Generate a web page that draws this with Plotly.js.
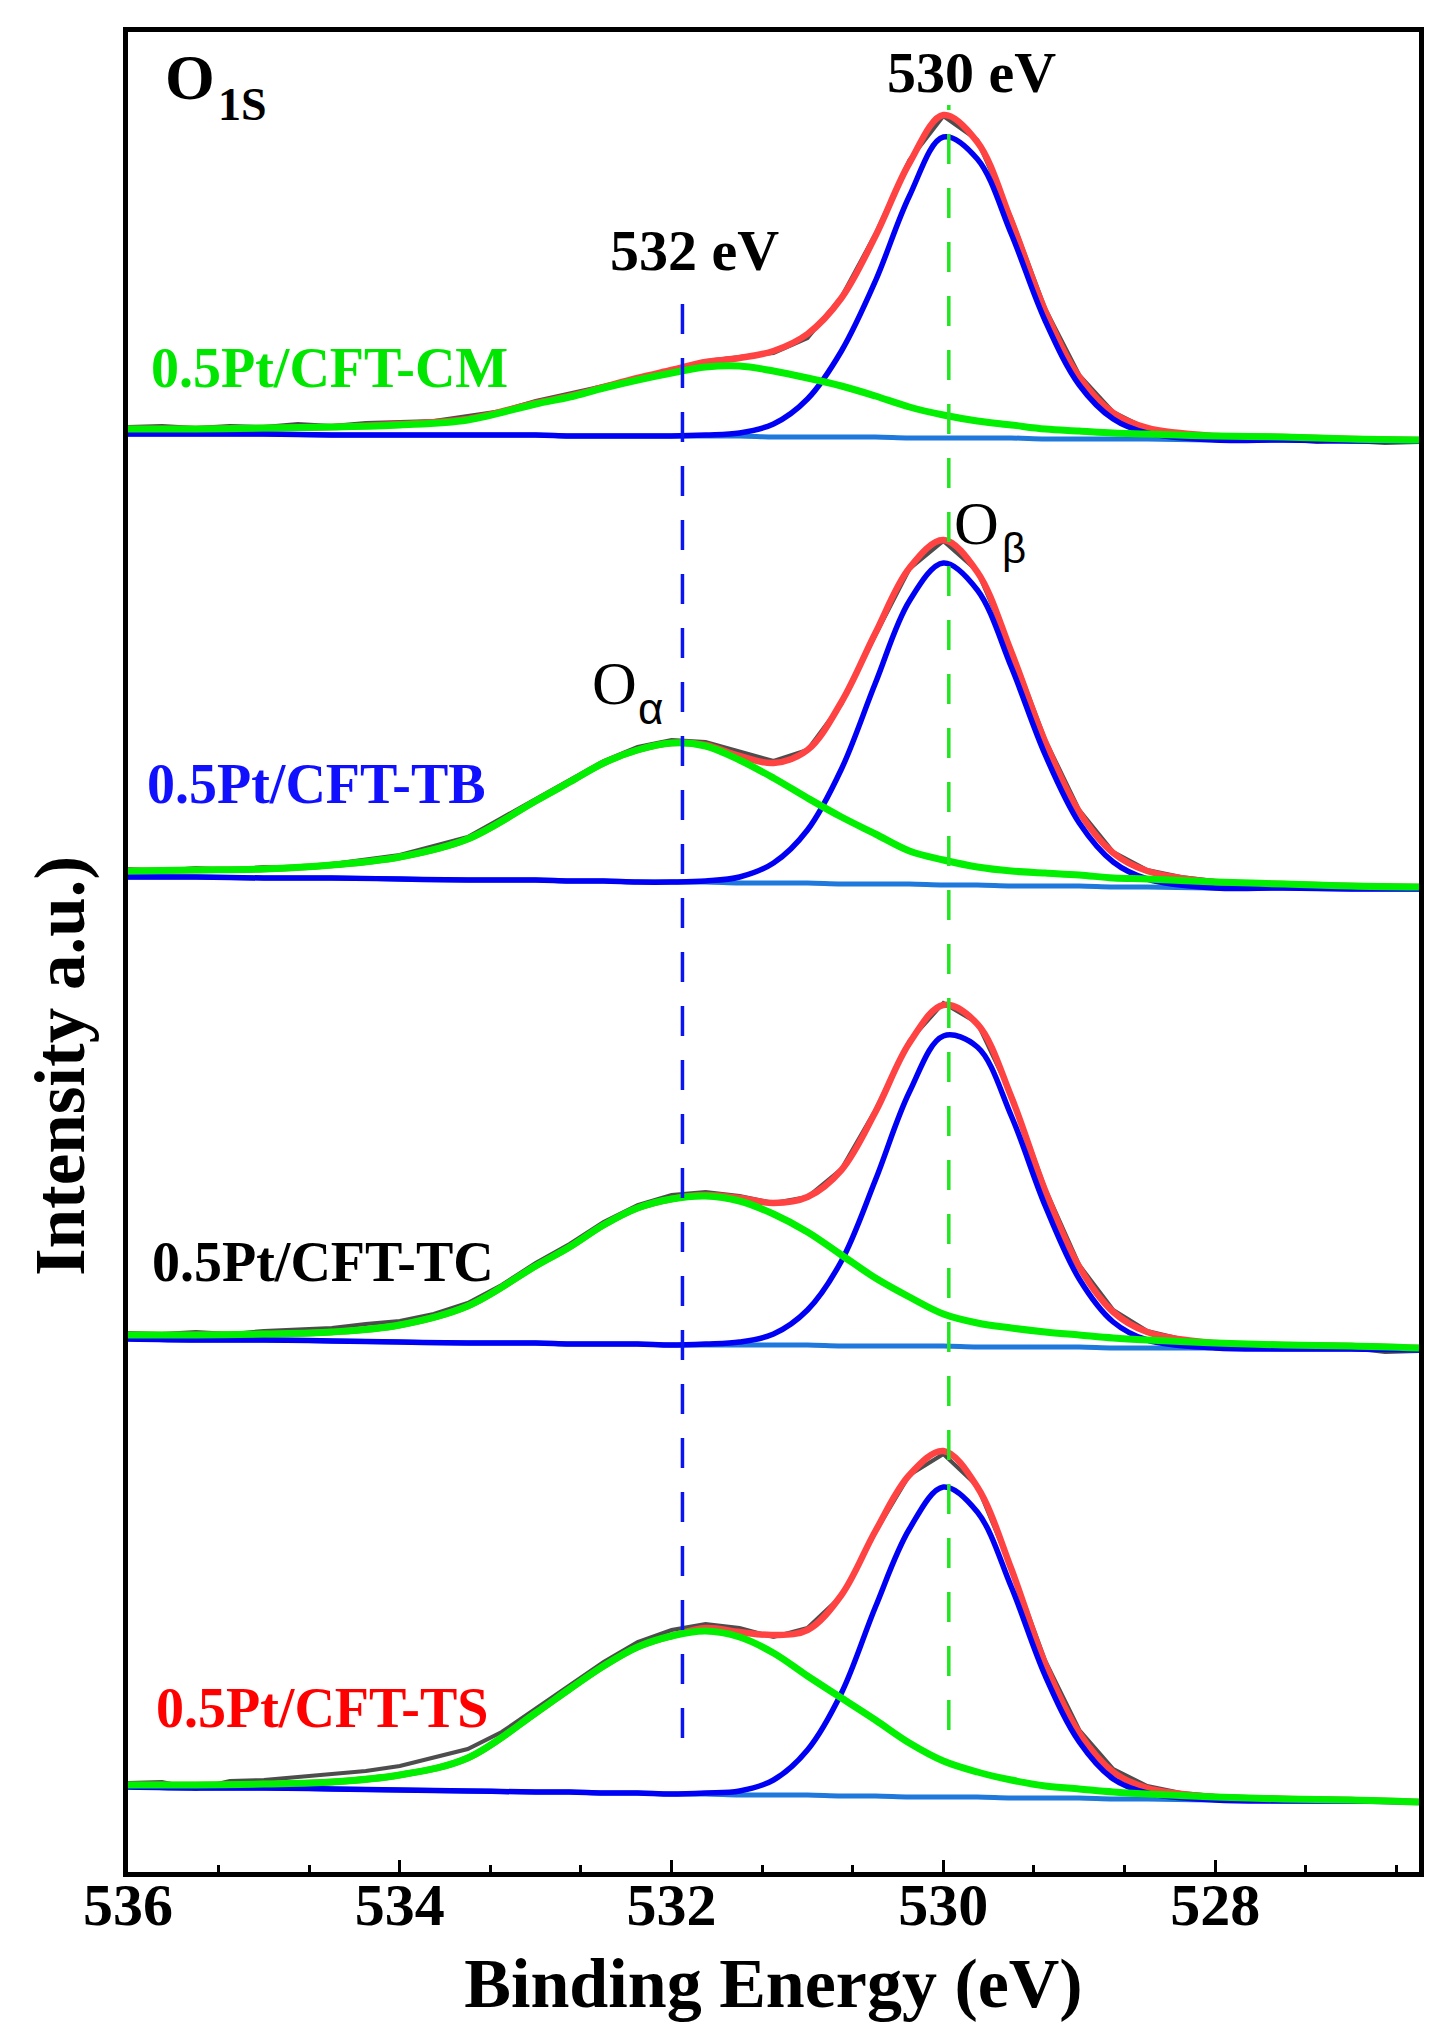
<!DOCTYPE html>
<html>
<head>
<meta charset="utf-8">
<script src="https://cdn.plot.ly/plotly-3.0.1.min.js"></script>
<style>html,body{margin:0;padding:0;background:#fff;}#chart{width:1447px;height:2040px;}</style>
</head>
<body>
<div id="chart"></div>
<script>
// ---- data (binding energy in eV, intensity in a.u.) ----
const energyFit = [536, 535.5, 535, 534.5, 534, 533.5, 533, 532.75, 532.5, 532.25, 532, 531.75, 531.5, 531.25, 531, 530.75, 530.5, 530.25, 530, 529.75, 529.5, 529.25, 529, 528.75, 528.5, 528, 527.5, 527, 526.5];
const energyRaw = [536, 535.75, 535.5, 535.25, 535, 534.75, 534.5, 534.25, 534, 533.75, 533.5, 533.25, 533, 532.75, 532.5, 532.25, 532, 531.75, 531.5, 531.25, 531, 530.75, 530.5, 530.25, 530, 529.75, 529.5, 529.25, 529, 528.75, 528.5, 528.25, 528, 527.75, 527.5, 527.25, 527, 526.75, 526.5];

const sampleNames = ['0.5Pt/CFT-CM', '0.5Pt/CFT-TB', '0.5Pt/CFT-TC', '0.5Pt/CFT-TS'];
const stackOffsets = [1431, 983, 522, 70];

// 0.5Pt/CFT-CM
const cmRaw = [14,15,13,15,14,17,15,18,19,20,25,30,40,47,55,63,72,80,84,88,103,144,207,281,325,301,223,132,66,29,12,7,3,1,2,-1,0,-2,-1];
const cmFit = [12,12,13,14,17,22,38,45,54,63,71,79,83,90,107,143,205,278,326,299,220,130,64,28,13,5,4,2,1];
const cmBackground = [7,7,7,6,6,6,6,5,5,5,5,5,5,4,4,4,4,3,3,3,3,2,2,2,2,1,1,0,0];
const cmObeta = [7,7,7,6,6,6,6,5,5,5,5,6,8,17,42,90,160,245,304,282,207,120,56,22,8,1,1,0,0];
const cmOalpha = [12,12,13,14,16,21,37,44,53,61,68,74,75,70,63,55,45,34,26,20,16,12,10,8,7,5,4,2,1];

// 0.5Pt/CFT-TB
const tbRaw = [20,18,21,19,22,21,25,30,34,43,52,71,90,110,128,142,149,147,137,128,139,185,254,320,348,318,239,149,79,37,19,12,8,5,5,3,3,1,2];
const tbFit = [18,19,20,24,32,50,88,107,126,139,146,144,133,126,139,187,256,321,349,317,237,147,77,36,18,7,5,3,2];
const tbBackground = [12,12,11,11,10,9,9,8,8,7,7,7,6,6,6,5,5,5,4,4,3,3,3,2,2,1,1,0,0];
const tbObeta = [12,12,11,11,10,9,9,8,8,7,7,8,12,26,59,120,206,288,326,299,222,134,66,27,10,1,1,0,0];
const tbOalpha = [18,19,20,24,32,50,88,107,126,139,146,143,129,111,91,72,55,38,29,22,18,16,14,11,10,7,5,3,2];

// 0.5Pt/CFT-TC
const tcRaw = [17,16,18,16,19,20,22,26,29,36,47,65,87,106,128,145,155,158,154,147,153,181,240,309,347,327,255,161,85,40,19,11,6,3,3,1,2,-2,-1];
const tcFit = [15,15,16,18,25,44,84,103,125,142,151,155,152,147,153,180,238,307,345,326,253,159,83,38,18,7,5,4,2];
const tcBackground = [11,10,10,9,8,7,7,6,6,6,5,5,5,5,5,4,4,4,4,3,3,3,3,2,2,2,1,1,0];
const tcObeta = [11,10,10,9,8,7,7,6,6,6,5,6,8,16,40,89,170,258,314,303,234,144,71,28,10,2,1,1,0];
const tcOalpha = [15,15,16,18,25,44,84,103,125,142,151,154,149,136,118,95,72,53,36,27,22,18,15,12,10,7,5,4,2];

// 0.5Pt/CFT-TS
const tsRaw = [19,20,13,21,22,25,27,31,36,44,53,70,93,116,140,160,172,178,174,165,174,206,270,327,348,316,234,141,72,33,16,9,6,5,4,3,2,1,1];
const tsFit = [17,17,18,20,27,44,89,113,136,155,166,174,170,167,172,207,271,327,351,315,233,138,69,30,14,5,3,2,0];
const tsBackground = [15,14,14,13,12,11,10,10,9,9,8,8,7,7,7,6,6,5,5,5,4,4,4,3,3,2,1,1,0];
const tsObeta = [15,14,14,13,12,11,10,10,9,9,8,9,11,22,52,109,195,273,315,290,215,126,60,23,9,2,1,1,0];
const tsOalpha = [17,17,18,20,27,44,89,113,136,155,166,171,165,149,126,104,82,59,41,30,22,16,13,10,8,5,3,2,0];

// reference peak positions (eV) and the intensity span of their guide lines
const refEnergies = [531.92, 529.96];
const refSpans = [[134, 1570], [142, 1767]];

const xTickVals = [536, 534, 532, 530, 528];
const xTickText = ['536', '534', '532', '530', '528'];

// ---- build traces ----
const spectra = [
  {raw: cmRaw, fit: cmFit, bg: cmBackground, ob: cmObeta, oa: cmOalpha},
  {raw: tbRaw, fit: tbFit, bg: tbBackground, ob: tbObeta, oa: tbOalpha},
  {raw: tcRaw, fit: tcFit, bg: tcBackground, ob: tcObeta, oa: tcOalpha},
  {raw: tsRaw, fit: tsFit, bg: tsBackground, ob: tsObeta, oa: tsOalpha}
];

const COLORS = {raw: '#4d4d4d', fit: '#ff4343', bg: '#1f78dc', ob: '#0000f5', oa: '#00f000'};
const traces = [];
spectra.forEach((s, i) => {
  const off = stackOffsets[i];
  const shift = arr => arr.map(v => v + off);
  traces.push({x: energyRaw, y: shift(s.raw), mode: 'lines', name: sampleNames[i] + ' raw',
    line: {color: COLORS.raw, width: 4, shape: 'linear'}});
  traces.push({x: energyFit, y: shift(s.fit), mode: 'lines', name: sampleNames[i] + ' fit',
    line: {color: COLORS.fit, width: 6.5, shape: 'spline', smoothing: 1}});
  traces.push({x: energyFit, y: shift(s.bg), mode: 'lines', name: sampleNames[i] + ' background',
    line: {color: COLORS.bg, width: 5, shape: 'spline', smoothing: 1}});
  traces.push({x: energyFit, y: shift(s.ob), mode: 'lines', name: sampleNames[i] + ' Oβ',
    line: {color: COLORS.ob, width: 5.5, shape: 'spline', smoothing: 1}});
  traces.push({x: energyFit, y: shift(s.oa), mode: 'lines', name: sampleNames[i] + ' Oα',
    line: {color: COLORS.oa, width: 7, shape: 'spline', smoothing: 1}});
});
const refColors = ['#0a14f0', '#22e622'];
refEnergies.forEach((e, k) => {
  traces.push({x: [e, e], y: refSpans[k], mode: 'lines', name: 'ref ' + e,
    line: {color: refColors[k], width: 3.5, dash: '30px,24px'}});
});

const SERIF = 'Liberation Serif, Times New Roman, serif';
const SANS = 'Liberation Sans, Arial, sans-serif';
const bold = (size, color) => ({family: SERIF, size: size, color: color || '#000', weight: 'bold'});

const annotations = [
  {x: 535.544, y: 1795, text: 'O', font: bold(64)},
  {x: 535.154, y: 1768, text: '1S', font: bold(46)},
  {x: 529.79, y: 1800, text: '530 eV', font: bold(58)},
  {x: 531.828, y: 1622, text: '532 eV', font: bold(58)},
  {x: 529.756, y: 1349, text: 'O', font: {family: SERIF, size: 62, color: '#000'}},
  {x: 529.477, y: 1324, text: 'β', font: {family: SANS, size: 42, color: '#000'}},
  {x: 532.42, y: 1189, text: 'O', font: {family: SERIF, size: 62, color: '#000'}},
  {x: 532.152, y: 1164, text: 'α', font: {family: SANS, size: 44, color: '#000'}},
  {x: 535.845, y: 1504, text: sampleNames[0], xanchor: 'left', font: bold(56, '#00e600')},
  {x: 535.875, y: 1088, text: sampleNames[1], xanchor: 'left', font: bold(56, '#1010ff')},
  {x: 535.838, y: 610, text: sampleNames[2], xanchor: 'left', font: bold(56, '#000')},
  {x: 535.809, y: 164, text: sampleNames[3], xanchor: 'left', font: bold(56, '#ff0000')}
].map(a => Object.assign({xref: 'x', yref: 'y', showarrow: false, xanchor: 'center', yanchor: 'middle'}, a));

annotations.push({xref: 'paper', yref: 'paper', x: -0.0527, y: 0.438, xanchor: 'center', yanchor: 'middle',
  textangle: -90, showarrow: false, text: 'Intensity a.u.)', font: bold(71)});

const layout = {
  width: 1447, height: 2040,
  margin: {l: 128, r: 28, t: 32, b: 168},
  paper_bgcolor: '#fff', plot_bgcolor: '#fff',
  showlegend: false,
  xaxis: {
    range: [536, 526.5], autorange: false,
    tickmode: 'array', tickvals: xTickVals, ticktext: xTickText,
    ticks: 'inside', ticklen: 12, tickwidth: 3, tickcolor: '#000',
    minor: {tickmode: 'linear', tick0: 536, dtick: 2 / 3, ticks: 'inside', ticklen: 7, tickwidth: 3, tickcolor: '#000'},
    showline: true, linewidth: 5, linecolor: '#000', mirror: true,
    showgrid: false, zeroline: false,
    tickfont: bold(60),
    ticklabelstandoff: -24,
    title: {text: 'Binding Energy (eV)', font: bold(70), standoff: 22}
  },
  yaxis: {
    range: [0, 1840], autorange: false,
    showticklabels: false, ticks: '',
    showline: true, linewidth: 5, linecolor: '#000', mirror: true,
    showgrid: false, zeroline: false
  },
  annotations: annotations
};

Plotly.newPlot('chart', traces, layout, {staticPlot: true});
</script>
</body>
</html>
